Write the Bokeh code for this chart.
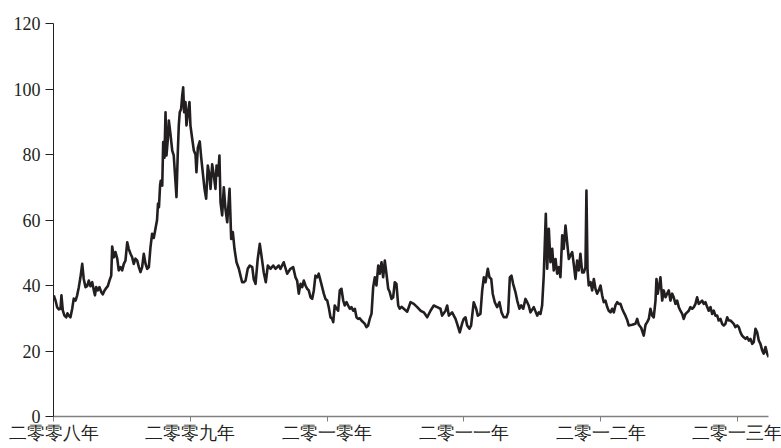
from bokeh.plotting import figure
from bokeh.models import FixedTicker, Range1d, ColumnDataSource
from bokeh.embed import file_html
from bokeh.resources import INLINE

# ---- data ----
year_ticks = [2008, 2009, 2010, 2011, 2012, 2013]
year_labels = ["二零零八年", "二零零九年", "二零一零年", "二零一一年", "二零一二年", "二零一三年"]
value_ticks = [0, 20, 40, 60, 80, 100, 120]

t = [
    2008.002, 2008.015, 2008.027, 2008.039, 2008.051, 2008.058, 2008.068, 2008.080, 2008.093, 2008.102,
    2008.112, 2008.124, 2008.137, 2008.148, 2008.161, 2008.173, 2008.185, 2008.197, 2008.210, 2008.221,
    2008.234, 2008.246, 2008.258, 2008.270, 2008.283, 2008.295, 2008.303, 2008.312, 2008.324, 2008.336,
    2008.349, 2008.360, 2008.373, 2008.385, 2008.397, 2008.409, 2008.422, 2008.429, 2008.441, 2008.453,
    2008.466, 2008.477, 2008.490, 2008.502, 2008.514, 2008.526, 2008.539, 2008.550, 2008.563, 2008.575,
    2008.587, 2008.599, 2008.612, 2008.624, 2008.636, 2008.648, 2008.660, 2008.673, 2008.685, 2008.697,
    2008.709, 2008.721, 2008.733, 2008.746, 2008.757, 2008.764, 2008.771, 2008.779, 2008.784, 2008.795,
    2008.802, 2008.811, 2008.819, 2008.826, 2008.836, 2008.843, 2008.855, 2008.868, 2008.879, 2008.892,
    2008.899, 2008.909, 2008.916, 2008.923, 2008.933, 2008.941, 2008.948, 2008.955, 2008.965, 2008.972,
    2008.982, 2008.994, 2009.001, 2009.014, 2009.026, 2009.038, 2009.045, 2009.055, 2009.069, 2009.080,
    2009.091, 2009.104, 2009.116, 2009.128, 2009.140, 2009.148, 2009.160, 2009.172, 2009.184, 2009.192,
    2009.204, 2009.213, 2009.221, 2009.233, 2009.245, 2009.257, 2009.270, 2009.287, 2009.299, 2009.311,
    2009.323, 2009.338, 2009.355, 2009.367, 2009.379, 2009.391, 2009.404, 2009.420, 2009.435, 2009.453,
    2009.464, 2009.477, 2009.493, 2009.508, 2009.520, 2009.537, 2009.552, 2009.567, 2009.586, 2009.606,
    2009.623, 2009.647, 2009.659, 2009.683, 2009.708, 2009.732, 2009.752, 2009.769, 2009.781, 2009.793,
    2009.806, 2009.818, 2009.830, 2009.842, 2009.855, 2009.866, 2009.879, 2009.891, 2009.903, 2009.915,
    2009.928, 2009.939, 2009.952, 2009.964, 2009.976, 2009.988, 2010.001, 2010.012, 2010.025, 2010.037,
    2010.045, 2010.056, 2010.069, 2010.081, 2010.093, 2010.105, 2010.118, 2010.129, 2010.142, 2010.154,
    2010.166, 2010.178, 2010.191, 2010.203, 2010.215, 2010.227, 2010.239, 2010.251, 2010.264, 2010.276,
    2010.288, 2010.300, 2010.312, 2010.325, 2010.337, 2010.349, 2010.361, 2010.374, 2010.385, 2010.398,
    2010.410, 2010.422, 2010.434, 2010.447, 2010.458, 2010.471, 2010.483, 2010.495, 2010.507, 2010.520,
    2010.531, 2010.544, 2010.561, 2010.586, 2010.610, 2010.634, 2010.659, 2010.683, 2010.707, 2010.732,
    2010.756, 2010.780, 2010.805, 2010.829, 2010.841, 2010.866, 2010.878, 2010.890, 2010.914, 2010.939,
    2010.951, 2010.970, 2010.988, 2010.999, 2011.012, 2011.024, 2011.041, 2011.053, 2011.072, 2011.090,
    2011.102, 2011.121, 2011.134, 2011.146, 2011.158, 2011.175, 2011.187, 2011.200, 2011.211, 2011.226,
    2011.243, 2011.260, 2011.275, 2011.292, 2011.311, 2011.324, 2011.336, 2011.348, 2011.360, 2011.377,
    2011.390, 2011.406, 2011.419, 2011.434, 2011.450, 2011.463, 2011.474, 2011.487, 2011.511, 2011.536,
    2011.548, 2011.560, 2011.572, 2011.584, 2011.599, 2011.609, 2011.621, 2011.633, 2011.646, 2011.657,
    2011.670, 2011.682, 2011.694, 2011.706, 2011.719, 2011.730, 2011.743, 2011.755, 2011.767, 2011.779,
    2011.792, 2011.803, 2011.816, 2011.828, 2011.840, 2011.852, 2011.865, 2011.877, 2011.889, 2011.896,
    2011.904, 2011.913, 2011.926, 2011.938, 2011.950, 2011.962, 2011.974, 2011.986, 2011.999, 2012.011,
    2012.023, 2012.035, 2012.048, 2012.059, 2012.072, 2012.084, 2012.096, 2012.108, 2012.121, 2012.132,
    2012.145, 2012.157, 2012.169, 2012.181, 2012.194, 2012.205, 2012.230, 2012.254, 2012.267, 2012.279,
    2012.296, 2012.315, 2012.328, 2012.340, 2012.352, 2012.364, 2012.377, 2012.388, 2012.401, 2012.408,
    2012.417, 2012.430, 2012.437, 2012.450, 2012.461, 2012.474, 2012.486, 2012.498, 2012.510, 2012.523,
    2012.534, 2012.547, 2012.559, 2012.571, 2012.583, 2012.596, 2012.607, 2012.620, 2012.632, 2012.644,
    2012.656, 2012.669, 2012.681, 2012.693, 2012.705, 2012.717, 2012.730, 2012.742, 2012.754, 2012.766,
    2012.779, 2012.790, 2012.803, 2012.815, 2012.827, 2012.839, 2012.852, 2012.863, 2012.876, 2012.888,
    2012.900, 2012.912, 2012.925, 2012.936, 2012.949, 2012.961, 2012.973, 2012.985, 2012.998, 2013.010,
    2013.022, 2013.034, 2013.046, 2013.059, 2013.071, 2013.083, 2013.095, 2013.108, 2013.119, 2013.132,
    2013.144, 2013.156, 2013.168, 2013.181, 2013.192, 2013.205, 2013.217, 2013.229,
]

v = [
    37.0, 35.4, 33.3, 32.7, 32.9, 37.0, 32.4, 30.8, 30.3, 31.5,
    30.8, 30.3, 33.0, 36.0, 35.4, 37.0, 39.5, 42.5, 46.6, 42.0,
    39.5, 39.8, 41.5, 39.8, 41.0, 38.5, 37.0, 39.5, 38.5, 39.5,
    38.0, 37.3, 38.5, 39.2, 39.8, 41.5, 43.0, 51.9, 48.6, 50.2,
    48.2, 44.6, 45.6, 44.6, 46.6, 47.6, 53.2, 51.2, 49.7, 48.6,
    46.6, 48.2, 47.6, 45.6, 44.1, 45.6, 49.7, 46.6, 45.1, 45.6,
    51.7, 55.8, 54.5, 57.5, 60.0, 65.0, 63.9, 70.5, 72.0, 70.5,
    83.8, 79.0, 92.9, 79.7, 84.8, 90.4, 86.3, 81.2, 79.7, 71.5,
    67.0, 81.0, 88.9, 92.9, 93.9, 98.0, 100.5, 92.9, 96.0, 88.9,
    92.4, 96.0, 88.9, 84.8, 81.2, 80.0, 74.6, 82.0, 84.0, 79.0,
    74.6, 69.5, 66.5, 76.6, 73.6, 69.5, 77.0, 73.6, 69.5, 76.6,
    73.6, 79.7, 65.4, 61.4, 70.0, 63.4, 59.3, 69.5, 54.2, 56.3,
    51.2, 47.1, 45.1, 43.0, 41.0, 41.0, 41.5, 45.1, 46.1, 45.6,
    41.9, 40.5, 48.1, 52.7, 49.2, 44.0, 41.0, 46.1, 45.1, 46.1,
    45.1, 46.1, 45.1, 47.1, 43.6, 45.1, 45.6, 42.5, 41.5, 37.5,
    40.5, 39.5, 41.5, 40.0, 39.0, 38.5, 36.4, 35.9, 38.5, 43.0,
    42.5, 43.6, 41.5, 39.5, 37.5, 35.9, 35.4, 33.4, 30.3, 29.8,
    28.8, 33.9, 32.9, 32.3, 38.5, 39.0, 35.4, 33.9, 34.9, 33.9,
    32.9, 33.4, 32.3, 32.9, 30.3, 29.8, 30.0, 29.3, 28.8, 28.3,
    27.3, 27.8, 29.8, 31.4, 39.5, 42.5, 40.0, 46.1, 43.6, 47.1,
    42.5, 47.6, 43.6, 39.0, 38.0, 35.9, 36.4, 41.0, 40.5, 33.9,
    32.9, 33.5, 32.9, 32.0, 34.9, 34.4, 33.4, 32.3, 31.8, 30.3,
    32.3, 33.9, 33.4, 32.9, 30.8, 32.3, 33.9, 30.8, 31.8, 29.8,
    28.3, 25.7, 28.5, 29.8, 30.3, 27.8, 26.8, 27.8, 34.9, 32.9,
    30.8, 31.3, 38.5, 42.5, 41.0, 45.1, 42.5, 42.0, 37.5, 34.9,
    33.4, 34.9, 31.8, 30.3, 30.3, 31.8, 42.5, 43.0, 40.5, 38.0,
    35.4, 32.9, 33.9, 32.9, 35.9, 34.9, 33.9, 31.8, 33.4, 30.8,
    31.8, 31.3, 33.9, 43.0, 61.9, 45.1, 57.3, 47.1, 51.2, 44.6,
    48.1, 43.6, 45.6, 42.5, 55.3, 51.2, 58.3, 53.2, 48.1, 49.2,
    50.2, 46.6, 42.0, 47.6, 44.6, 49.7, 44.0, 44.0, 45.6, 69.0,
    44.6, 40.0, 41.0, 38.5, 42.0, 39.0, 37.5, 38.5, 40.0, 37.0,
    34.9, 35.4, 33.4, 32.3, 31.8, 32.9, 31.8, 33.9, 34.9, 34.4,
    34.4, 32.9, 31.8, 30.8, 29.5, 27.8, 28.0, 28.3, 29.8, 28.0,
    27.1, 24.7, 28.0, 28.8, 29.8, 32.9, 30.8, 30.3, 35.4, 42.0,
    37.5, 40.5, 42.5, 35.4, 38.5, 36.4, 37.5, 38.5, 35.4, 37.5,
    36.4, 34.4, 35.4, 33.4, 32.3, 31.3, 29.8, 31.3, 31.8, 32.3,
    33.4, 32.9, 33.4, 34.4, 36.4, 34.4, 34.9, 35.4, 34.4, 34.9,
    33.4, 32.3, 33.4, 31.3, 32.3, 30.8, 30.8, 29.3, 29.8, 28.3,
    27.8, 28.3, 30.3, 29.3, 29.3, 28.8, 28.3, 27.3, 27.8, 27.3,
    25.7, 24.7, 24.2, 23.7, 24.2, 23.2, 23.7, 22.2, 22.7, 26.8,
    25.7, 23.2, 22.2, 20.2, 19.2, 21.2, 19.2, 18.1,
]

source = ColumnDataSource(data=dict(t=t, v=v))

p = figure(
    width=781, height=448,
    output_backend="svg", toolbar_location=None,
    x_range=Range1d(2008.0, 2013.227), y_range=Range1d(0, 120),
    min_border_left=53, min_border_right=13, min_border_top=23, min_border_bottom=32,
)
p.outline_line_color = None
p.grid.visible = False
p.background_fill_color = "white"
p.border_fill_color = "white"

p.line("t", "v", source=source, line_color="#231f20", line_width=2.6, line_join="round")

# y axis
ya = p.yaxis[0]
ya.ticker = FixedTicker(ticks=value_ticks)
ya.minor_tick_line_color = None
ya.major_tick_out = 8
ya.major_tick_in = 0
ya.major_label_standoff = 5
ya.axis_line_color = "#231f20"
ya.major_tick_line_color = "#231f20"
ya.major_label_text_font = "Liberation Serif"
ya.major_label_text_font_size = "18px"
ya.major_label_text_color = "#231f20"

# x axis
xa = p.xaxis[0]
xa.ticker = FixedTicker(ticks=year_ticks)
xa.major_label_overrides = {yr: lab for yr, lab in zip(year_ticks, year_labels)}
xa.minor_tick_line_color = None
xa.major_tick_out = 5
xa.major_tick_in = 0
xa.major_label_standoff = 1
xa.axis_line_color = "#808080"
xa.axis_line_width = 1.5
xa.major_tick_line_color = "#808080"
xa.major_label_text_font = "Liberation Serif"
xa.major_label_text_font_size = "18px"
xa.major_label_text_color = "#231f20"

open("out.html", "w").write(file_html(p, INLINE))
